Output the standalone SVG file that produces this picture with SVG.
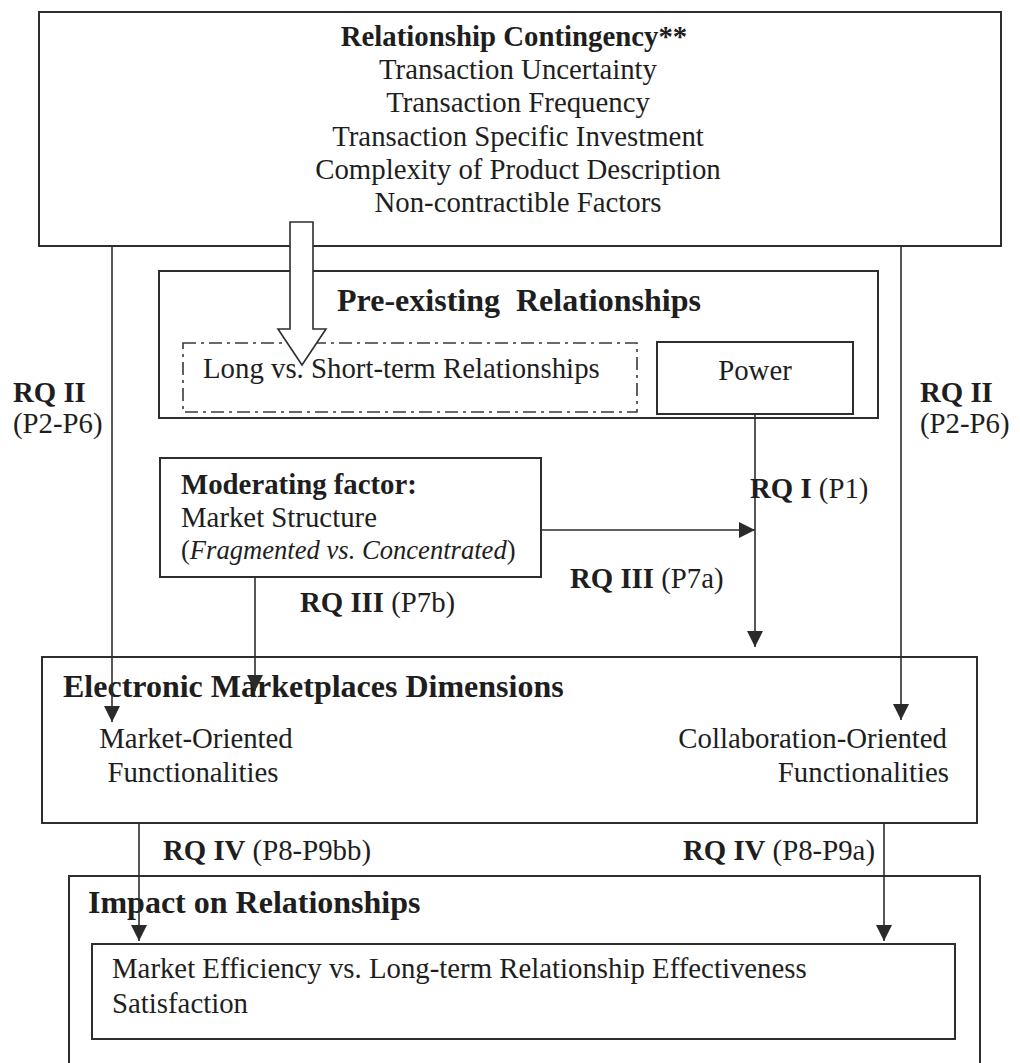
<svg xmlns="http://www.w3.org/2000/svg" width="1020" height="1063" viewBox="0 0 1020 1063">
  <defs>
    <marker id="tri" viewBox="0 0 16 16" refX="16" refY="8" markerWidth="16" markerHeight="16" markerUnits="userSpaceOnUse" orient="auto">
      <path d="M0,0 L16,8 L0,16 Z" fill="#2a2a2a"/>
    </marker>
    <style>
      .box { fill: none; stroke: #2e2e2e; stroke-width: 2; }
      .dashbox { fill: none; stroke: #3a3a3a; stroke-width: 1.6; stroke-dasharray: 13 5 3 5; }
      .wire { fill: none; stroke: #2e2e2e; stroke-width: 1.6; }
      .t { font-family: "Liberation Serif", "Times New Roman", serif; font-size: 28.8px; fill: #1e1e1e; }
      .h { font-size: 32px; }
      .s { font-size: 26.6px; }
      .b { font-weight: bold; }
      .i { font-style: italic; }
      .c { text-anchor: middle; }
      .r { text-anchor: end; }
    </style>
  </defs>
  <rect width="1020" height="1063" fill="#ffffff"/>

  <!-- Relationship contingency -->
  <g id="node-contingency">
    <rect class="box" x="39" y="12" width="962" height="234"/>
    <text class="t b c" x="514" y="46">Relationship Contingency**</text>
    <text class="t c" x="518" y="79">Transaction Uncertainty</text>
    <text class="t c" x="518" y="112">Transaction Frequency</text>
    <text class="t c" x="518" y="146">Transaction Specific Investment</text>
    <text class="t c" x="518" y="179">Complexity of Product Description</text>
    <text class="t c" x="518" y="212">Non-contractible Factors</text>
  </g>

  <!-- Pre-existing relationships -->
  <g id="node-preexisting">
    <rect class="box" x="159" y="271" width="719" height="147"/>
    <text class="t h b c" x="519" y="311" xml:space="preserve">Pre-existing  Relationships</text>
  </g>
  <g id="node-longshort">
    <rect class="dashbox" x="183" y="343" width="454" height="69"/>
  </g>
  <g id="node-power">
    <rect class="box" x="657" y="342" width="196" height="72"/>
    <text class="t c" x="755" y="380">Power</text>
  </g>

  <!-- Moderating factor -->
  <g id="node-moderating">
    <rect class="box" x="160" y="458" width="381" height="119"/>
    <text class="t b" x="181" y="494">Moderating factor:</text>
    <text class="t" x="181" y="527">Market Structure</text>
    <text class="t s" x="181" y="559">(<tspan class="i">Fragmented vs. Concentrated</tspan>)</text>
  </g>

  <!-- Electronic marketplaces -->
  <g id="node-emarket">
    <rect class="box" x="42" y="657" width="935" height="166"/>
    <text class="t h b" x="63" y="697">Electronic Marketplaces Dimensions</text>
    <text class="t c" x="196" y="748">Market-Oriented</text>
    <text class="t c" x="193" y="782">Functionalities</text>
    <text class="t r" x="947" y="748">Collaboration-Oriented</text>
    <text class="t r" x="949" y="782">Functionalities</text>
  </g>

  <!-- Impact on relationships: bottom edge runs past the page -->
  <g id="node-impact">
    <rect class="box" x="69" y="876" width="911" height="200"/>
    <text class="t h b" x="88" y="913">Impact on Relationships</text>
  </g>
  <g id="node-outcome">
    <rect class="box" x="92" y="944" width="863" height="95"/>
    <text class="t" x="112" y="978">Market Efficiency vs. Long-term Relationship Effectiveness</text>
    <text class="t" x="112" y="1013">Satisfaction</text>
  </g>

  <!-- Connectors -->
  <g id="connectors">
    <path class="wire" d="M112,246 V722" marker-end="url(#tri)"/>
    <path class="wire" d="M901,246 V720" marker-end="url(#tri)"/>
    <path class="wire" d="M755,414 V647" marker-end="url(#tri)"/>
    <path class="wire" d="M541,530 H755" marker-end="url(#tri)"/>
    <path class="wire" d="M255,577 V691" marker-end="url(#tri)"/>
    <path class="wire" d="M139,823 V941" marker-end="url(#tri)"/>
    <path class="wire" d="M884,823 V941" marker-end="url(#tri)"/>
    <!-- broad arrow from contingency into the relationship duration box -->
    <path d="M290,222 H313 V329 H326 L302,365 L278,329 H290 Z" fill="#ffffff" stroke="#2e2e2e" stroke-width="1.6"/>

    <text class="t b" x="13" y="402">RQ II</text>
    <text class="t" x="13" y="433">(P2-P6)</text>
    <text class="t b" x="920" y="402">RQ II</text>
    <text class="t" x="920" y="433">(P2-P6)</text>
    <text class="t" x="750" y="498"><tspan class="b">RQ I</tspan> (P1)</text>
    <text class="t" x="570" y="588"><tspan class="b">RQ III</tspan> (P7a)</text>
    <text class="t" x="300" y="612"><tspan class="b">RQ III</tspan> (P7b)</text>
    <text class="t" x="163" y="860"><tspan class="b">RQ IV</tspan> (P8-P9bb)</text>
    <text class="t" x="683" y="860"><tspan class="b">RQ IV</tspan> (P8-P9a)</text>
  </g>

  <!-- text inside the dash-dot box sits above the broad arrow -->
  <text class="t" x="203" y="378">Long vs. Short-term Relationships</text>
</svg>
